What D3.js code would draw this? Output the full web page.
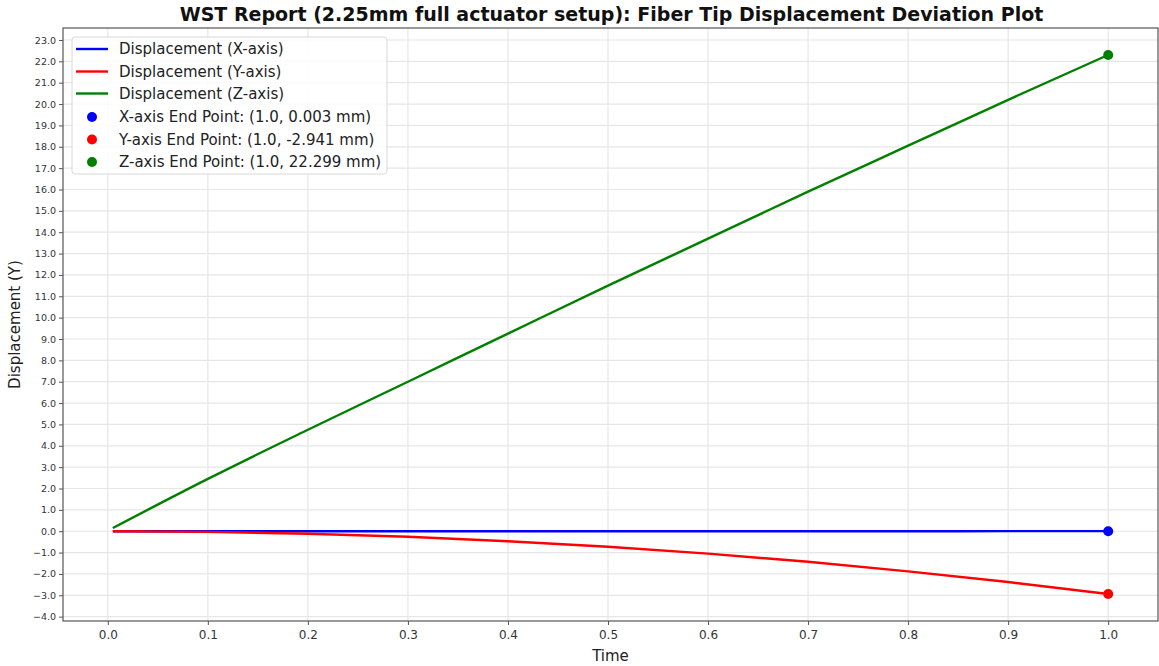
<!DOCTYPE html>
<html><head><meta charset="utf-8">
<script src="https://cdn.jsdelivr.net/npm/d3@7/dist/d3.min.js"></script>
<style>body{margin:0;background:#fff}svg{display:block}text{font-family:"DejaVu Sans",sans-serif}</style>
</head><body><svg id="c" width="1159" height="666"></svg>
<script>
const timeVals = [0.005, 0.1, 0.2, 0.3, 0.4, 0.5, 0.6, 0.7, 0.8, 0.9, 1.0];
const dispX = [0.0, 0.0, 0.0, 0.0, 0.001, 0.001, 0.001, 0.002, 0.002, 0.003, 0.003];
const dispY = [0.0, -0.03, -0.12, -0.26, -0.47, -0.73, -1.05, -1.43, -1.88, -2.38, -2.941];
const dispZ = [0.15, 2.45, 4.75, 7.0, 9.25, 11.5, 13.7, 15.9, 18.05, 20.2, 22.299];
const endPoints = [
  {label: "X-axis End Point: (1.0, 0.003 mm)", t: 1.0, v: 0.003, color: "#0000ff"},
  {label: "Y-axis End Point: (1.0, -2.941 mm)", t: 1.0, v: -2.941, color: "#ff0000"},
  {label: "Z-axis End Point: (1.0, 22.299 mm)", t: 1.0, v: 22.299, color: "#008000"}
];
const seriesNames = ["Displacement (X-axis)", "Displacement (Y-axis)", "Displacement (Z-axis)"];
const seriesColors = ["#0000ff", "#ff0000", "#008000"];
const xTicks = [0.0,0.1,0.2,0.3,0.4,0.5,0.6,0.7,0.8,0.9,1.0];
const yTicks = d3.range(-4, 24, 1);

const svg = d3.select("#c");
const L = 63, R = 1158, T = 28, B = 621;
const x = d3.scaleLinear().domain([-0.0448, 1.0498]).range([L, R]);
const y = d3.scaleLinear().domain([-4.203, 23.561]).range([B, T]);

// grid
const g = svg.append("g");
g.selectAll(".vg").data(xTicks).join("line")
  .attr("x1", d => x(d)).attr("x2", d => x(d)).attr("y1", T).attr("y2", B)
  .attr("stroke", "#e6e6e6").attr("stroke-width", 1.2);
g.selectAll(".hg").data(yTicks).join("line")
  .attr("y1", d => y(d)).attr("y2", d => y(d)).attr("x1", L).attr("x2", R)
  .attr("stroke", "#e6e6e6").attr("stroke-width", 1.2);

// lines
const series = [dispX, dispY, dispZ];
const line = d3.line().x((d,i) => x(timeVals[i])).y(d => y(d)).curve(d3.curveMonotoneX);
series.forEach((s, i) => {
  svg.append("path").datum(s).attr("d", line).attr("fill", "none")
    .attr("stroke", seriesColors[i]).attr("stroke-width", 2.4);
});
svg.selectAll(".ep").data(endPoints).join("circle")
  .attr("cx", d => x(d.t)).attr("cy", d => y(d.v)).attr("r", 5).attr("fill", d => d.color);

// axes
const xAxis = d3.axisBottom(x).tickValues(xTicks).tickFormat(d3.format(".1f")).tickSize(4).tickPadding(5);
const yAxis = d3.axisLeft(y).tickValues(yTicks).tickFormat(d3.format(".1f")).tickSize(4).tickPadding(3);
const xa = svg.append("g").attr("transform", `translate(0,${B})`).call(xAxis);
const ya = svg.append("g").attr("transform", `translate(${L},0)`).call(yAxis);
xa.select(".domain").remove(); ya.select(".domain").remove();
xa.selectAll("text").attr("font-size", 12).attr("fill", "#333").attr("font-family", "DejaVu Sans");
ya.selectAll("text").attr("font-size", 9.5).attr("fill", "#333").attr("font-family", "DejaVu Sans");
xa.selectAll("line").attr("stroke", "#555");
ya.selectAll("line").attr("stroke", "#555");
svg.append("rect").attr("x", L).attr("y", T).attr("width", R - L).attr("height", B - T)
  .attr("fill", "none").attr("stroke", "#555").attr("stroke-width", 1.2);

// labels
svg.append("text").attr("x", (L + R) / 2 + 1).attr("y", 21).attr("text-anchor", "middle")
  .attr("font-size", 19).attr("font-weight", "bold").attr("fill", "#111")
  .text("WST Report (2.25mm full actuator setup): Fiber Tip Displacement Deviation Plot");
svg.append("text").attr("x", (L + R) / 2).attr("y", 661).attr("text-anchor", "middle")
  .attr("font-size", 15).attr("fill", "#222").text("Time");
svg.append("text").attr("transform", `translate(20,${(T + B) / 2}) rotate(-90)`).attr("text-anchor", "middle")
  .attr("font-size", 15).attr("fill", "#222").text("Displacement (Y)");

// legend
const lg = svg.append("g");
lg.append("rect").attr("x", 72).attr("y", 37).attr("width", 315).attr("height", 137).attr("rx", 3)
  .attr("fill", "#fff").attr("fill-opacity", 0.85).attr("stroke", "#d8d8d8");
const rowY = [49, 71.5, 93.5, 117, 139.5, 162];
seriesNames.forEach((n, i) => {
  lg.append("line").attr("x1", 76).attr("x2", 108).attr("y1", rowY[i]).attr("y2", rowY[i])
    .attr("stroke", seriesColors[i]).attr("stroke-width", 2.4);
  lg.append("text").attr("x", 119).attr("y", rowY[i]).attr("dy", "0.35em")
    .attr("font-size", 15).attr("fill", "#222").text(n);
});
endPoints.forEach((e, i) => {
  const yy = rowY[i + 3];
  lg.append("circle").attr("cx", 92).attr("cy", yy).attr("r", 5).attr("fill", e.color);
  lg.append("text").attr("x", 119).attr("y", yy).attr("dy", "0.35em")
    .attr("font-size", 15).attr("fill", "#222").text(e.label);
});
</script></body></html>
